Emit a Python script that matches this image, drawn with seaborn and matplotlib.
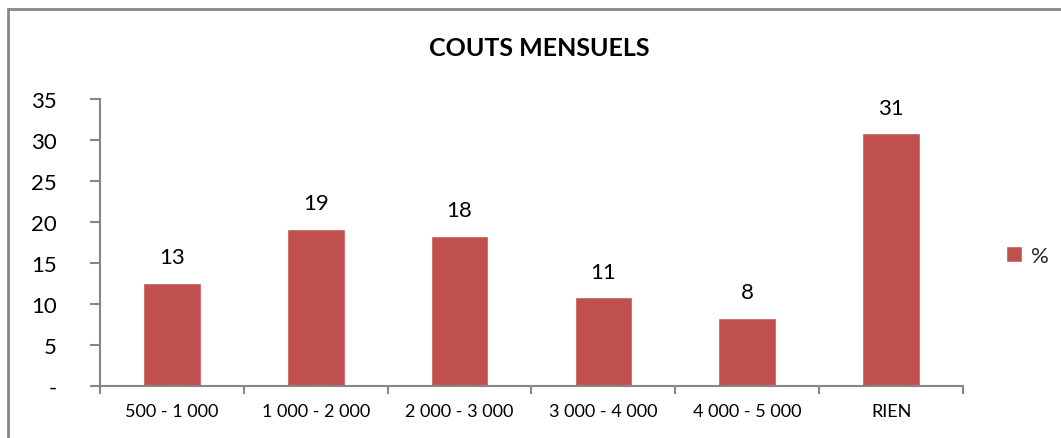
import matplotlib
matplotlib.use("Agg")
import matplotlib.pyplot as plt
from matplotlib.lines import Line2D
import seaborn as sns
import pandas as pd

categories = ["500 - 1 000", "1 000 - 2 000", "2 000 - 3 000", "3 000 - 4 000", "4 000 - 5 000", "RIEN"]
values = [12.6, 19.2, 18.3, 10.8, 8.3, 30.8]
series_name = "%"
y_ticks = [0, 5, 10, 15, 20, 25, 30, 35]
y_tick_labels = ["-", "5", "10", "15", "20", "25", "30", "35"]
title = "COUTS MENSUELS"

sns.set_style("white")
plt.rcParams["font.family"] = ["Lato", "DejaVu Sans"]

df = pd.DataFrame({"cat": categories, "val": values, "serie": [series_name] * len(values)})

fig = plt.figure(figsize=(10.61, 4.39), dpi=100)
ax = fig.add_axes([100 / 1061, 52 / 439, 863 / 1061, 287 / 439])

bar_color = "#C0504D"
grey = "#868686"

sns.barplot(data=df, x="cat", y="val", hue="serie", palette=[bar_color],
            width=0.4, ax=ax, legend=True, saturation=1)

ax.set_xlim(-0.5, len(categories) - 0.5)
ax.set_ylim(0, 35)
ax.set_xlabel("")
ax.set_ylabel("")

for i, v in enumerate(values):
    ax.annotate(f"{v:.0f}", xy=(i, v), xytext=(0, 18.5), textcoords="offset points",
                ha="center", va="center", fontsize=16, color="#000000")

ax.set_yticks(y_ticks)
ax.set_yticklabels(y_tick_labels)
ax.tick_params(axis="y", which="major", direction="out", length=7, width=1.5, color=grey,
               labelsize=16, pad=24, left=True, labelcolor="#000000")

ax.set_xticks(range(len(categories)))
ax.set_xticklabels(categories)
ax.set_xticks([i - 0.5 for i in range(len(categories) + 1)], minor=True)
ax.tick_params(axis="x", which="major", length=0, labelsize=13, pad=12, labelcolor="#000000")
ax.tick_params(axis="x", which="minor", direction="out", length=6, width=1.5, color=grey, bottom=True)

for s in ["top", "right"]:
    ax.spines[s].set_visible(False)
for s in ["left", "bottom"]:
    ax.spines[s].set_color(grey)
    ax.spines[s].set_linewidth(1.5)

ax.set_title(title, fontsize=18, fontweight="bold", color="#000000",
             x=(539 - 100) / 863, y=1.0, pad=32)

leg = ax.legend(loc="center left", bbox_to_anchor=(995 / 1061, (439 - 257) / 439),
                bbox_transform=fig.transFigure, frameon=False, fontsize=16,
                handlelength=0.7, handleheight=0.7, handletextpad=0.4, borderpad=0)

# outer chart border (partially cropped)
fig.add_artist(Line2D([7.5 / 1061, 7.5 / 1061], [0, 1 - 10 / 439], transform=fig.transFigure,
                      color=grey, lw=2))
fig.add_artist(Line2D([7.5 / 1061, 1], [1 - 10 / 439, 1 - 10 / 439], transform=fig.transFigure,
                      color=grey, lw=2))

fig.savefig("out.png", dpi=100)
